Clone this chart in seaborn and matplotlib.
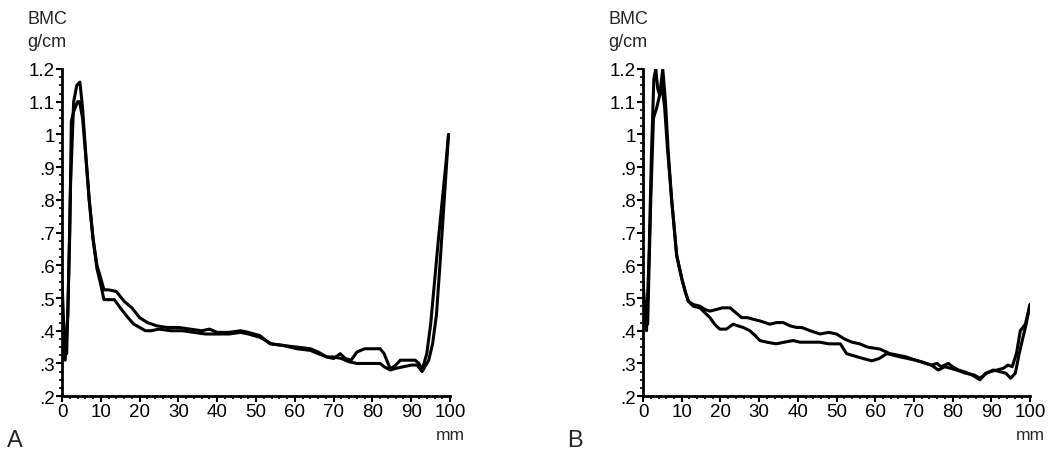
import numpy as np
import pandas as pd
import seaborn as sns
import matplotlib.pyplot as plt
from matplotlib.ticker import MultipleLocator, FuncFormatter

# panel A, curve 1 (higher peak)
a1_x = [0, 0.8, 1.5, 2.2, 3, 3.8, 4.6, 5.3, 6, 7, 8, 9, 10, 10.8, 12, 14, 16, 18, 20, 22,
        24.4, 27, 30, 33, 36, 38, 40, 43, 46, 48, 51, 53.6, 57, 60.5, 64, 66, 68.2, 70, 71.7,
        73, 74.5, 76, 78, 80, 82, 83, 84.6, 86, 87.2, 89, 91, 92, 92.8, 94, 95, 96, 97, 98,
        99, 99.6]
a1_y = [0.55, 0.31, 0.45, 0.85, 1.10, 1.15, 1.16, 1.08, 0.96, 0.80, 0.68, 0.60, 0.56, 0.525,
        0.525, 0.52, 0.49, 0.47, 0.44, 0.425, 0.415, 0.41, 0.41, 0.405, 0.40, 0.405, 0.395,
        0.395, 0.40, 0.395, 0.385, 0.36, 0.355, 0.35, 0.345, 0.335, 0.32, 0.315, 0.33, 0.315,
        0.31, 0.335, 0.345, 0.345, 0.345, 0.33, 0.283, 0.295, 0.31, 0.31, 0.31, 0.30, 0.28,
        0.33, 0.42, 0.55, 0.68, 0.80, 0.92, 1.0]

# panel A, curve 2
a2_x = [0, 1.2, 2, 2.4, 3, 4, 4.5, 5.3, 6, 7, 8, 9, 10, 10.8, 12, 13.5, 15, 17, 18.5, 20,
        21.5, 23, 25, 28, 31, 34, 37, 40, 43, 46, 48, 51, 54, 57, 60.5, 64, 66, 68.2, 70, 72,
        74, 76, 78, 80, 82, 83, 84.6, 86, 88, 90, 91.5, 92.8, 94.5, 95.5, 96.5, 97.5, 98.5,
        99.6]
a2_y = [0.40, 0.33, 0.70, 1.04, 1.07, 1.10, 1.10, 1.05, 0.95, 0.80, 0.68, 0.59, 0.54, 0.495,
        0.495, 0.495, 0.47, 0.44, 0.42, 0.41, 0.40, 0.40, 0.405, 0.40, 0.40, 0.395, 0.39,
        0.39, 0.39, 0.395, 0.39, 0.38, 0.36, 0.355, 0.345, 0.34, 0.33, 0.32, 0.32, 0.315,
        0.305, 0.30, 0.30, 0.30, 0.30, 0.29, 0.28, 0.285, 0.29, 0.295, 0.295, 0.275, 0.31,
        0.36, 0.45, 0.62, 0.80, 1.0]

# panel B, curve 1 (upper plateau)
b1_x = [0, 0.9, 1.6, 2.2, 2.8, 3.3, 3.8, 4.3, 5.1, 5.8, 6.5, 7.4, 8.7, 10, 10.9, 11.7, 13,
        14.7, 16, 17.3, 19, 20.5, 22.5, 24, 25.5, 27, 28.5, 30.2, 32.8, 34.5, 36.2, 38, 39.7,
        41, 43.2, 45.7, 48, 50, 52, 54, 56, 58, 61.2, 63.8, 66, 68, 70.4, 72, 74.5, 76, 77,
        78.9, 80, 81.5, 83.4, 85, 87.1, 88.5, 89.7, 91.5, 93.1, 94.3, 95.4, 96.5, 97.5, 98.8,
        100]
b1_y = [0.55, 0.40, 0.65, 0.95, 1.17, 1.20, 1.14, 1.12, 1.20, 1.10, 0.95, 0.80, 0.63, 0.56,
        0.52, 0.49, 0.48, 0.475, 0.465, 0.46, 0.465, 0.47, 0.47, 0.455, 0.44, 0.44, 0.435,
        0.43, 0.42, 0.425, 0.425, 0.415, 0.41, 0.41, 0.40, 0.39, 0.395, 0.39, 0.375, 0.365,
        0.36, 0.35, 0.344, 0.33, 0.325, 0.32, 0.31, 0.305, 0.295, 0.30, 0.29, 0.30, 0.29,
        0.28, 0.273, 0.265, 0.25, 0.27, 0.275, 0.28, 0.285, 0.295, 0.29, 0.33, 0.40, 0.42,
        0.48]

# panel B, curve 2
b2_x = [0, 1.2, 2, 2.7, 3.5, 4.3, 4.9, 5.6, 6.3, 7.4, 8.7, 10, 10.9, 11.7, 13, 14.7, 16,
        17.3, 18.5, 19.8, 21.5, 23.3, 24.5, 25.9, 27.6, 29, 30.2, 32, 34.4, 36.5, 38.8, 40.6,
        43.2, 45.7, 48, 51, 52.6, 54, 56, 59.1, 61, 63, 66.5, 70.4, 74.5, 76.3, 78, 79.5, 81,
        83.4, 85.5, 87.1, 88.8, 90.5, 92.2, 93.8, 95, 96.2, 97.2, 98, 99, 100]
b2_y = [0.45, 0.42, 0.80, 1.05, 1.08, 1.12, 1.15, 1.08, 0.96, 0.80, 0.63, 0.56, 0.52, 0.49,
        0.475, 0.47, 0.455, 0.44, 0.42, 0.405, 0.405, 0.42, 0.415, 0.41, 0.40, 0.385, 0.37,
        0.365, 0.36, 0.365, 0.37, 0.365, 0.365, 0.365, 0.36, 0.36, 0.33, 0.325, 0.318, 0.308,
        0.315, 0.33, 0.32, 0.31, 0.295, 0.28, 0.29, 0.285, 0.28, 0.27, 0.265, 0.255, 0.27,
        0.28, 0.275, 0.27, 0.255, 0.27, 0.33, 0.37, 0.42, 0.48]

panel_labels = ['A', 'B']
y_ticks = [0.2, 0.3, 0.4, 0.5, 0.6, 0.7, 0.8, 0.9, 1.0, 1.1, 1.2]
x_ticks = [0, 10, 20, 30, 40, 50, 60, 70, 80, 90, 100]

sns.set_style('ticks')
plt.rcParams['font.family'] = ['Liberation Sans', 'DejaVu Sans']

fig = plt.figure(figsize=(10.55, 4.56), dpi=100)
axA = fig.add_axes([0.0588, 0.129, 0.3678, 0.7175])
axB = fig.add_axes([0.6095, 0.129, 0.3668, 0.7175])


def fmt_y(v, pos):
    # 1.0 -> "1", 0.5 -> ".5"
    s = '%.1f' % v
    if s.endswith('.0'):
        s = s[:-2]
    if s.startswith('0'):
        s = s[1:]
    return s


for ax, curves, lab, lx in [(axA, [(a1_x, a1_y), (a2_x, a2_y)], panel_labels[0], 0.007),
                            (axB, [(b1_x, b1_y), (b2_x, b2_y)], panel_labels[1], 0.538)]:
    for cx, cy in curves:
        sns.lineplot(x=cx, y=cy, ax=ax, color='black', linewidth=2.2, sort=False)
    ax.set_xlim(0, 100)
    ax.set_ylim(0.2, 1.2)
    ax.set_xticks(x_ticks)
    ax.set_yticks(y_ticks)
    ax.xaxis.set_minor_locator(MultipleLocator(2))
    ax.yaxis.set_minor_locator(MultipleLocator(0.025))
    ax.yaxis.set_major_formatter(FuncFormatter(fmt_y))
    ax.tick_params(which='major', length=4, width=1.5, labelsize=13.5, pad=1, colors='black')
    ax.tick_params(which='minor', length=2, width=1.2, colors='black')
    sns.despine(ax=ax)
    for sp in ['left', 'bottom']:
        ax.spines[sp].set_linewidth(2.0)
        ax.spines[sp].set_color('black')
    ax.set_xlabel('')
    ax.set_ylabel('')
    ax.text(1.0, -0.095, 'mm', transform=ax.transAxes, fontsize=12.5,
            ha='center', va='top')
    ax.text(-0.09, 1.153, 'BMC', transform=ax.transAxes, fontsize=13, ha='left', va='center')
    ax.text(-0.09, 1.083, 'g/cm', transform=ax.transAxes, fontsize=13, ha='left', va='center')
    fig.text(lx, 0.033, lab, fontsize=17, ha='left', va='center')

fig.savefig('out.png', dpi=100)
